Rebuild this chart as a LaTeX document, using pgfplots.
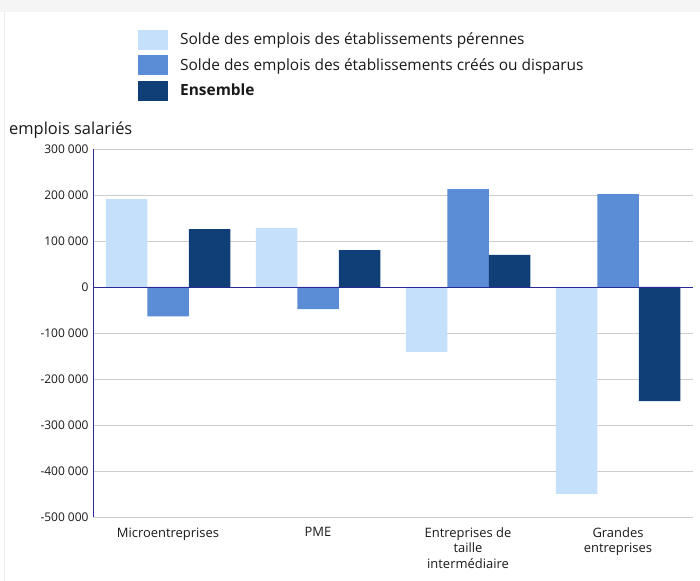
\documentclass[border=0pt]{standalone}
\usepackage{pgfplots}
\pgfplotsset{compat=1.18}
\usepackage{fontspec}
\setmainfont{Open Sans}
\definecolor{cLight}{RGB}{197,224,250}
\definecolor{cMid}{RGB}{91,141,214}
\definecolor{cDark}{RGB}{16,63,120}
\definecolor{cAxis}{RGB}{40,40,150}
\definecolor{cGrid}{RGB}{205,205,205}
\definecolor{cText}{RGB}{25,25,25}
\begin{document}
\begin{tikzpicture}[x=1bp,y=1bp]
\useasboundingbox (0,0) rectangle (700,581);
\fill[black!4] (0,569) rectangle (700,581);
\draw[black!8,line width=1bp] (4,0) -- (4,569);
\node[anchor=west,font=\fontsize{16.5}{18}\selectfont,text=cText,inner sep=0] at (9,451) {emplois salariés};
\begin{axis}[
  at={(93bp,64bp)}, anchor=south west,
  scale only axis, width=600bp, height=368bp,
  xmin=-0.5, xmax=3.5, ymin=-500000, ymax=300000,
  ytick={-500000,-400000,-300000,-200000,-100000,0,100000,200000,300000},
  yticklabels={-500 000,-400 000,-300 000,-200 000,-100 000,0,100 000,200 000,300 000},
  xtick={0,1,2,3},
  xticklabels={Microentreprises, PME, {Entreprises de\\taille\\intermédiaire}, {Grandes\\entreprises}},
  xticklabel style={align=center, font=\fontsize{13}{15.5}\selectfont, text=cText, anchor=north, yshift=-7bp},
  yticklabel style={font=\fontsize{12}{14}\selectfont, text=cText, xshift=-1bp},
  scaled y ticks=false,
  major tick length=0pt,
  ymajorgrids, grid style={cGrid, line width=0.8bp},
  axis x line*=bottom, x axis line style={draw=none},
  axis y line*=left, y axis line style={cAxis, line width=0.8bp, -},
  ybar, bar width=41.5bp,
  legend cell align=left,
  legend style={at={(0.07,1.33)}, anchor=north west, draw=none, fill=none,
    font=\fontsize{15.5}{18}\selectfont, text=cText, row sep=5.5bp,
    /tikz/every odd column/.append style={column sep=10bp}},
  legend image code/.code={\fill[#1] (0bp,-10bp) rectangle (30bp,10bp);},
]
\addplot[fill=cLight, draw=none, bar shift=-41.5bp] coordinates {(0,191000) (1,128000) (2,-141000) (3,-450000)};
\addlegendentry{Solde des emplois des établissements pérennes}
\addplot[fill=cMid, draw=none, bar shift=0bp] coordinates {(0,-64000) (1,-48000) (2,213000) (3,202000)};
\addlegendentry{Solde des emplois des établissements créés ou disparus}
\addplot[fill=cDark, draw=none, bar shift=41.5bp] coordinates {(0,126000) (1,80000) (2,70000) (3,-248000)};
\addlegendentry{\textbf{Ensemble}}
\draw[cAxis, line width=0.8bp] (axis cs:-0.5,0) -- (axis cs:3.5,0);
\end{axis}
\end{tikzpicture}
\end{document}
